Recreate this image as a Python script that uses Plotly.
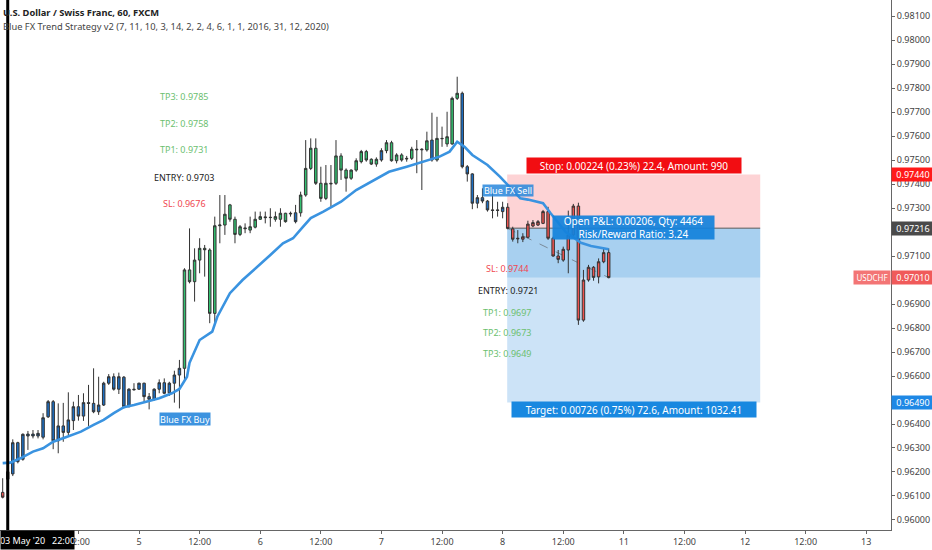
import plotly.graph_objects as go

# USDCHF 1h bars, bar 0 = 03 May 2020 21:00, bar 120 = 08 May 2020 21:00
bar_open = [
    0.96115, 0.96201, 0.96192, 0.96322, 0.96253, 0.96350, 0.96358, 0.96350, 0.96345, 0.96430,
    0.96493, 0.96330, 0.96392, 0.96365, 0.96414, 0.96472, 0.96433, 0.96489, 0.96486, 0.96451,
    0.96479, 0.96570, 0.96597, 0.96545, 0.96595, 0.96472, 0.96545, 0.96545, 0.96570, 0.96514,
    0.96503, 0.96545, 0.96572, 0.96530, 0.96570, 0.96604, 0.96632, 0.97042, 0.96993, 0.97083,
    0.97132, 0.97125, 0.96861, 0.97226, 0.97229, 0.97313, 0.97253, 0.97190, 0.97217, 0.97208,
    0.97220, 0.97253, 0.97263, 0.97260, 0.97253, 0.97253, 0.97278, 0.97278, 0.97280, 0.97280,
    0.97354, 0.97465, 0.97549, 0.97403, 0.97340, 0.97403, 0.97403, 0.97517, 0.97458, 0.97424,
    0.97458, 0.97493, 0.97535, 0.97503, 0.97483, 0.97500, 0.97539, 0.97572, 0.97497, 0.97521,
    0.97507, 0.97507, 0.97545, 0.97545, 0.97542, 0.97583, 0.97500, 0.97590, 0.97567, 0.97567,
    0.97757, 0.97778, 0.97472, 0.97442, 0.97320, 0.97343, 0.97329, 0.97292, 0.97292, 0.97285,
    0.97303, 0.97213, 0.97174, 0.97170, 0.97178, 0.97225, 0.97229, 0.97236, 0.97285, 0.97174,
    0.97100, 0.97083, 0.97125, 0.97188, 0.97308, 0.96833, 0.97000, 0.97053, 0.97013, 0.97076,
    0.97114,
]
bar_high = [
    0.96174, 0.96225, 0.96336, 0.96326, 0.96361, 0.96371, 0.96375, 0.96375, 0.96445, 0.96500,
    0.96500, 0.96486, 0.96488, 0.96532, 0.96493, 0.96521, 0.96528, 0.96563, 0.96632, 0.96597,
    0.96576, 0.96608, 0.96611, 0.96614, 0.96600, 0.96549, 0.96570, 0.96572, 0.96572, 0.96529,
    0.96549, 0.96586, 0.96590, 0.96576, 0.96622, 0.96667, 0.97049, 0.97215, 0.97132, 0.97174,
    0.97146, 0.97132, 0.97264, 0.97354, 0.97354, 0.97317, 0.97264, 0.97229, 0.97236, 0.97264,
    0.97285, 0.97285, 0.97285, 0.97299, 0.97285, 0.97299, 0.97280, 0.97285, 0.97313, 0.97368,
    0.97583, 0.97590, 0.97590, 0.97472, 0.97479, 0.97479, 0.97583, 0.97528, 0.97465, 0.97461,
    0.97507, 0.97542, 0.97542, 0.97507, 0.97511, 0.97549, 0.97583, 0.97580, 0.97528, 0.97528,
    0.97517, 0.97555, 0.97583, 0.97549, 0.97618, 0.97697, 0.97680, 0.97639, 0.97701, 0.97764,
    0.97847, 0.97785, 0.97479, 0.97445, 0.97354, 0.97382, 0.97333, 0.97361, 0.97326, 0.97326,
    0.97320, 0.97222, 0.97208, 0.97195, 0.97247, 0.97250, 0.97250, 0.97292, 0.97305, 0.97180,
    0.97125, 0.97139, 0.97289, 0.97317, 0.97322, 0.97042, 0.97063, 0.97058, 0.97090, 0.97132,
    0.97132,
]
bar_low = [
    0.96090, 0.96158, 0.96183, 0.96236, 0.96247, 0.96292, 0.96340, 0.96340, 0.96336, 0.96425,
    0.96295, 0.96278, 0.96326, 0.96354, 0.96375, 0.96414, 0.96413, 0.96392, 0.96445, 0.96438,
    0.96475, 0.96563, 0.96539, 0.96525, 0.96465, 0.96470, 0.96539, 0.96542, 0.96489, 0.96461,
    0.96497, 0.96528, 0.96524, 0.96517, 0.96489, 0.96465, 0.96583, 0.96986, 0.96910, 0.97028,
    0.97014, 0.96820, 0.96820, 0.97153, 0.97188, 0.97243, 0.97153, 0.97183, 0.97195, 0.97195,
    0.97215, 0.97250, 0.97236, 0.97222, 0.97243, 0.97222, 0.97239, 0.97264, 0.97236, 0.97264,
    0.97347, 0.97458, 0.97396, 0.97326, 0.97333, 0.97305, 0.97396, 0.97417, 0.97368, 0.97417,
    0.97451, 0.97486, 0.97493, 0.97479, 0.97472, 0.97493, 0.97528, 0.97493, 0.97486, 0.97493,
    0.97493, 0.97500, 0.97445, 0.97375, 0.97535, 0.97493, 0.97493, 0.97555, 0.97555, 0.97563,
    0.97750, 0.97465, 0.97410, 0.97295, 0.97299, 0.97320, 0.97285, 0.97257, 0.97264, 0.97257,
    0.97211, 0.97160, 0.97153, 0.97158, 0.97174, 0.97220, 0.97225, 0.97233, 0.97167, 0.97097,
    0.97070, 0.97076, 0.97028, 0.97175, 0.96813, 0.96826, 0.96993, 0.96997, 0.96986, 0.97070,
    0.97007,
]
bar_close = [
    0.96095, 0.96170, 0.96322, 0.96243, 0.96357, 0.96358, 0.96350, 0.96361, 0.96426, 0.96493,
    0.96330, 0.96392, 0.96365, 0.96417, 0.96472, 0.96433, 0.96489, 0.96486, 0.96451, 0.96479,
    0.96570, 0.96597, 0.96545, 0.96597, 0.96472, 0.96545, 0.96543, 0.96570, 0.96514, 0.96503,
    0.96545, 0.96572, 0.96528, 0.96570, 0.96604, 0.96632, 0.97042, 0.96993, 0.97083, 0.97132,
    0.97126, 0.96861, 0.97226, 0.97229, 0.97274, 0.97253, 0.97190, 0.97222, 0.97214, 0.97222,
    0.97253, 0.97264, 0.97260, 0.97261, 0.97264, 0.97278, 0.97243, 0.97276, 0.97243, 0.97354,
    0.97465, 0.97549, 0.97403, 0.97340, 0.97403, 0.97401, 0.97517, 0.97458, 0.97424, 0.97458,
    0.97497, 0.97535, 0.97500, 0.97483, 0.97503, 0.97539, 0.97572, 0.97497, 0.97521, 0.97500,
    0.97505, 0.97545, 0.97543, 0.97543, 0.97580, 0.97500, 0.97590, 0.97589, 0.97597, 0.97757,
    0.97778, 0.97472, 0.97442, 0.97320, 0.97343, 0.97329, 0.97292, 0.97290, 0.97290, 0.97303,
    0.97215, 0.97170, 0.97172, 0.97180, 0.97233, 0.97239, 0.97243, 0.97285, 0.97174, 0.97100,
    0.97086, 0.97128, 0.97188, 0.97308, 0.96833, 0.97000, 0.97053, 0.97011, 0.97076, 0.97114,
    0.97010,
]
# bar colouring of the strategy, as runs of (state, number of bars)
trend_runs = [("down", 2), ("flat", 34), ("up", 22), ("flat", 1), ("up", 16), ("flat", 1),
              ("up", 9), ("flat", 1), ("up", 5), ("flat", 9), ("down", 21)]

# trend line of the indicator, read at some bars
ema_bar = [0, 1.5, 3.5, 6, 8, 10, 12.5, 15.5, 18, 20, 22, 24, 26, 28.5, 31, 33.5, 35, 36.5,
           37, 39, 40.5, 41.5, 42.5, 45, 47.5, 50.5, 53, 55.5, 57.5, 59.5, 61, 63.5, 67, 70,
           73.5, 76.5, 80, 83.5, 86.5, 88.5, 90, 91.5, 93, 96, 98.5, 100, 101, 102.5, 104,
           107, 108.5, 111.5, 114.5, 116.5, 120]
ema_val = [0.96237, 0.96239, 0.96257, 0.96285, 0.96299, 0.96326, 0.96345, 0.96368, 0.96396,
           0.96417, 0.96445, 0.96470, 0.96479, 0.96493, 0.96507, 0.96528, 0.96546, 0.96597,
           0.96655, 0.96750, 0.96771, 0.96785, 0.96847, 0.96945, 0.97000, 0.97055, 0.97104,
           0.97153, 0.97174, 0.97222, 0.97258, 0.97285, 0.97326, 0.97375, 0.97417, 0.97451,
           0.97472, 0.97493, 0.97514, 0.97535, 0.97576, 0.97554, 0.97521, 0.97479, 0.97430,
           0.97396, 0.97375, 0.97340, 0.97335, 0.97320, 0.97278, 0.97200, 0.97155, 0.97142,
           0.97128]

tick_bars = [15, 27, 39, 51, 63, 75, 87, 99, 111, 123, 135, 147, 159, 171]
tick_text = ["12:00", "5", "12:00", "6", "12:00", "7", "12:00", "8", "12:00", "11",
             "12:00", "12", "12:00", "13"]

# short position drawn on the chart
pos_start, pos_end = 99.9, 150.0
entry_price = 0.97216
stop_price = 0.97440
target_price = 0.96490
last_price = 0.97010

buy_levels = ["TP3: 0.9785", "TP2: 0.9758", "TP1: 0.9731", "ENTRY: 0.9703", "SL: 0.9676"]
buy_level_y = [0.97764, 0.97653, 0.97542, 0.97426, 0.97320]
sell_levels = ["SL: 0.9744", "ENTRY: 0.9721", "TP1: 0.9697", "TP2: 0.9673", "TP3: 0.9649"]
sell_level_y = [0.97046, 0.96955, 0.96865, 0.96780, 0.96695]

FONT = "Noto Sans"
GREEN = "#33c070"
BLUE = "#1c6ec2"
RED = "#ef5350"
TP_GREEN = "#6cc070"
SL_RED = "#f0474f"

trend = []
for state, n in trend_runs:
    trend += [state] * n

fig = go.Figure()

colors = {"down": RED, "flat": BLUE, "up": GREEN}
for state, col in colors.items():
    idx = [i for i in range(len(trend)) if trend[i] == state]
    style = dict(fillcolor=col, line=dict(color="#333333", width=1))
    fig.add_trace(go.Candlestick(
        x=idx,
        open=[bar_open[i] for i in idx],
        high=[bar_high[i] for i in idx],
        low=[bar_low[i] for i in idx],
        close=[bar_close[i] for i in idx],
        increasing=style, decreasing=style,
        whiskerwidth=0, hoverinfo="skip"))

fig.add_trace(go.Scatter(x=ema_bar, y=ema_val, mode="lines",
                         line=dict(color="#3a93e0", width=2.6), hoverinfo="skip"))

shapes = [
    dict(type="rect", x0=pos_start, x1=pos_end, y0=entry_price, y1=stop_price,
         fillcolor="rgba(247,70,80,0.24)", line_width=0, layer="below"),
    dict(type="rect", x0=pos_start, x1=pos_end, y0=target_price, y1=entry_price,
         fillcolor="rgba(40,140,220,0.24)", line_width=0, layer="below"),
    dict(type="rect", x0=pos_start, x1=pos_end, y0=last_price, y1=entry_price,
         fillcolor="rgba(40,140,220,0.22)", line_width=0, layer="below"),
    dict(type="line", x0=pos_start, x1=pos_end, y0=entry_price, y1=entry_price,
         line=dict(color="#5a5a5a", width=1), layer="below"),
    dict(type="line", x0=pos_start, x1=len(bar_close) - 1, y0=entry_price, y1=last_price,
         line=dict(color="#7a8a99", width=1, dash="dash"), layer="below"),
    # crosshair
    dict(type="line", x0=1, x1=1, y0=0, y1=1, yref="paper",
         line=dict(color="#000000", width=3)),
]

ann = []


def boxed(x, y, text, bg, w, h, size=10, xref="x", yref="y", xanchor="center"):
    ann.append(dict(x=x, y=y, xref=xref, yref=yref, text=text, showarrow=False,
                    bgcolor=bg, width=w, height=h, borderpad=0, xanchor=xanchor,
                    font=dict(family=FONT, size=size, color="white")))


mid = (pos_start + pos_end) / 2
boxed(mid, 0.97477, "Stop: 0.00224 (0.23%) 22.4, Amount: 990", "#f20d12", 214, 15)
boxed(mid, 0.96460, "Target: 0.00726 (0.75%) 72.6, Amount: 1032.41", "#1888e0", 244, 15)
boxed(mid, 0.97219, "Open P&L: 0.00206, Qty: 4464<br>Risk/Reward Ratio: 3.24",
      "rgba(20,130,220,0.93)", 161, 23)
boxed(100.1, 0.97373, "Blue FX Sell", "rgba(40,135,220,0.85)", 50, 11, size=9)
boxed(36.1, 0.96421, "Blue FX Buy", "rgba(40,135,220,0.9)", 50, 12, size=9)

level_colors = [TP_GREEN, TP_GREEN, TP_GREEN, "#222222", SL_RED]
for t, y, c in zip(buy_levels, buy_level_y, level_colors):
    ann.append(dict(x=36, y=y, text=t, showarrow=False,
                    font=dict(family=FONT, size=9, color=c)))
level_colors = [SL_RED, "#222222", TP_GREEN, TP_GREEN, TP_GREEN]
for t, y, c in zip(sell_levels, sell_level_y, level_colors):
    ann.append(dict(x=100, y=y, text=t, showarrow=False,
                    font=dict(family=FONT, size=9, color=c)))

# price scale markers
for v, bg in [(stop_price, "#ff1a1a"), (entry_price, "#4a4a4a"),
              (last_price, "#f05a5a"), (target_price, "#1e88e5")]:
    boxed(1, v, f"{v:.5f}", bg, 42, 13, size=9, xref="paper", xanchor="left")
boxed(1, last_price, "USDCHF", "#f37575", 36, 13, size=8, xref="paper", xanchor="right")

# crosshair time label
ann.append(dict(x=0, y=0, xref="paper", yref="paper", xanchor="left", yanchor="top",
                text="03 May '20&nbsp;&nbsp;&nbsp;22:00", showarrow=False, bgcolor="#000000",
                width=73, height=18, borderpad=0,
                font=dict(family=FONT, size=9, color="white")))

# legend text at the top left
ann.append(dict(x=0, y=1, xref="paper", yref="paper", xanchor="left", yanchor="top",
                xshift=1, yshift=-4, showarrow=False,
                text="<b>U.S. Dollar / Swiss Franc, 60, FXCM</b>",
                font=dict(family=FONT, size=9.3, color="#222222")))
ann.append(dict(x=0, y=1, xref="paper", yref="paper", xanchor="left", yanchor="top",
                xshift=1, yshift=-18, showarrow=False,
                text="Blue FX Trend Strategy v2 (7, 11, 10, 3, 14, 2, 2, 4, 6, 1, 1, 2016, 31, 12, 2020)",
                font=dict(family=FONT, size=9.3, color="#444444")))

fig.update_layout(
    width=932, height=550,
    margin=dict(l=0, r=41, t=0, b=20),
    paper_bgcolor="white", plot_bgcolor="white",
    showlegend=False,
    shapes=shapes, annotations=ann,
    font=dict(family=FONT, size=9, color="#444444"),
    xaxis=dict(range=[-0.53, 175.9], tickvals=tick_bars, ticktext=tick_text,
               showgrid=False, zeroline=False, showline=True, linecolor="#666666",
               ticks="outside", ticklen=3, tickcolor="#666666",
               tickfont=dict(size=9, color="#444444"),
               rangeslider=dict(visible=False)),
    yaxis=dict(side="right", range=[0.959583, 0.981667], tick0=0.96, dtick=0.001,
               tickformat=".5f", showgrid=False, zeroline=False, showline=True,
               linecolor="#666666", ticks="outside", ticklen=3, tickcolor="#666666",
               tickfont=dict(size=9, color="#444444")),
)

fig.write_html("out.html", config={"displayModeBar": False},
               post_script="document.body.style.margin = '0px';")
